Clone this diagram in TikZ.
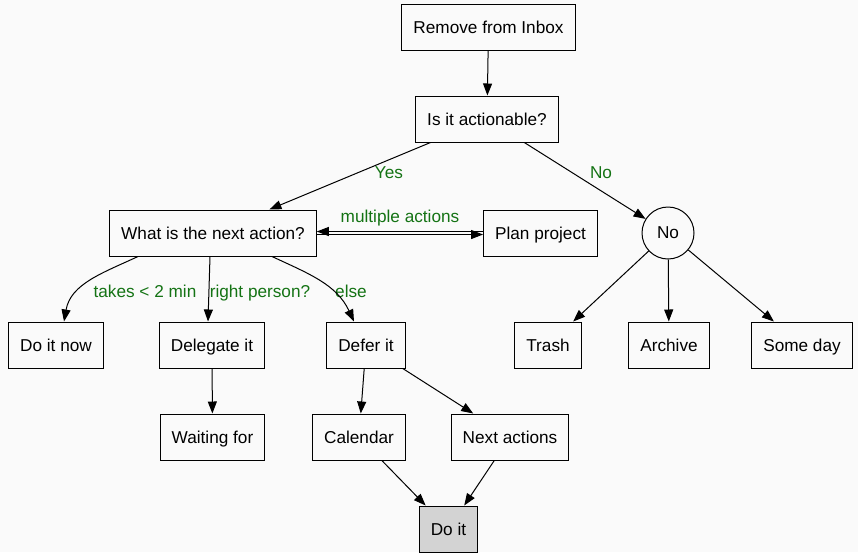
\documentclass[tikz,border=0pt]{standalone}
\usepackage{fontspec}
\setmainfont{Liberation Sans}
\usetikzlibrary{arrows.meta}
\definecolor{lblgreen}{RGB}{20,115,20}
\definecolor{bgcol}{RGB}{250,250,250}
\definecolor{doitgray}{RGB}{211,211,211}

\begin{document}
\begin{tikzpicture}[x=1pt,y=-1pt,
    box/.style={draw,line width=1pt,minimum height=46pt,inner xsep=11.5pt,text height=14pt,text depth=2pt,font=\fontsize{17.2}{21}\selectfont},
    lbl/.style={text=lblgreen,inner sep=0pt,text height=13pt,text depth=3pt,font=\fontsize{17.2}{21}\selectfont},
    edge/.style={line width=1pt,-{Triangle[length=12pt,width=9pt]}}]
    \fill[bgcol] (0,0) rectangle (858,552);
    \useasboundingbox (0,0) rectangle (858,552);

    \node[box] (inbox) at (488.5,27) {Remove from Inbox};
    \node[box] (actionable) at (487,119) {Is it actionable?};
    \node[box] (next) at (213,233) {What is the next action?};
    \node[box] (project) at (540.5,233) {Plan project};
    \node[draw,circle,line width=1pt,minimum size=52pt,inner sep=0pt,font=\fontsize{17.2}{21}\selectfont] (no) at (668,233) {No};

    \node[box] (doitnow) at (56,345) {Do it now};
    \node[box] (delegate) at (212,345) {Delegate it};
    \node[box] (defer) at (366,345) {Defer it};
    \node[box] (trash) at (548,345) {Trash};
    \node[box] (archive) at (669,345) {Archive};
    \node[box] (someday) at (802,345) {Some day};

    \node[box] (waiting) at (212.5,437) {Waiting for};
    \node[box] (calendar) at (359,437) {Calendar};
    \node[box] (nextactions) at (510,437) {Next actions};
    \node[box,fill=doitgray] (doit) at (448.5,529) {Do it};

    \node[lbl] (yes) at (389,173) {Yes};
    \node[lbl] (nolbl) at (601,173) {No};
    \node[lbl] (multiple) at (400,217) {multiple actions};
    \node[lbl] (quick) at (145,292) {takes < 2 min};
    \node[lbl] (person) at (260,292) {right person?};
    \node[lbl] (else) at (351,292) {else};

    \draw[edge] (inbox) -- (actionable);
    \draw[edge] (actionable) -- (next);
    \draw[edge] (actionable) -- (no);
    \draw[edge] ([yshift=-1.5pt]next.east) -- ([yshift=-1.5pt]project.west);
    \draw[edge] ([yshift=1.5pt]project.west) -- ([yshift=1.5pt]next.east);
    \draw[edge] ([xshift=-75pt]next.south) to[out=205,in=80] ([xshift=8pt]doitnow.north);
    \draw[edge] ([xshift=-3pt]next.south) -- ([xshift=-4pt]delegate.north);
    \draw[edge] ([xshift=59pt]next.south) to[out=-25,in=115] ([xshift=-12pt]defer.north);
    \draw[edge] (delegate) -- (waiting);
    \draw[edge] (defer) -- (calendar);
    \draw[edge] (defer) -- (nextactions);
    \draw[edge] (calendar) -- (doit);
    \draw[edge] (nextactions) -- (doit);
    \draw[edge] (no) -- (trash);
    \draw[edge] (no) -- (archive);
    \draw[edge] (no) -- (someday);
\end{tikzpicture}
\end{document}
